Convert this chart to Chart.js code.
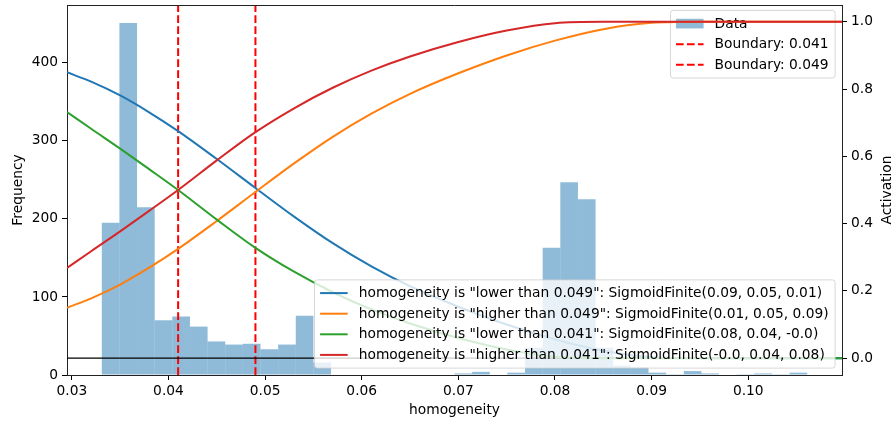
<!DOCTYPE html>
<html>
<head>
<meta charset="utf-8">
<script src="https://cdn.jsdelivr.net/npm/chart.js@4/dist/chart.umd.min.js"></script>
<style>
html, body { margin: 0; padding: 0; background: #fff; }
canvas { display: block; }
</style>
</head>
<body>
<canvas id="chart" width="894" height="421"></canvas>
<script>
// histogram of homogeneity values (40 equal bins)
const binStart = 0.0331;
const binWidth = 0.001825;
const counts = [195, 451, 215, 70, 75, 62, 43, 39, 40, 33,
                39, 76, 16, 0, 0, 0, 0, 0, 0, 0,
                2, 4, 0, 3, 35, 163, 247, 225, 35, 12,
                10, 3, 1, 5, 2, 0, 1, 2, 1, 3];

const boundaries = [0.041, 0.049];
const baselineLevel = 0;

// membership curves
const curveX = [0.0295, 0.032, 0.035, 0.038, 0.041, 0.045, 0.049, 0.053, 0.057, 0.061,
                0.065, 0.070, 0.075, 0.080, 0.085, 0.090, 0.095, 0.100, 0.1097];
const lowerThan049 = [0.850, 0.822, 0.781, 0.731, 0.675, 0.592, 0.506, 0.421, 0.342, 0.273,
                      0.214, 0.153, 0.100, 0.056, 0.022, 0.003, 0.0, 0.0, 0.0];
const higherThan049 = [0.150, 0.178, 0.219, 0.269, 0.325, 0.408, 0.494, 0.579, 0.658, 0.727,
                       0.786, 0.847, 0.900, 0.944, 0.978, 0.997, 1.0, 1.0, 1.0];
const lowerThan041 = [0.732, 0.682, 0.623, 0.562, 0.500, 0.412, 0.328, 0.257, 0.196, 0.145,
                      0.103, 0.060, 0.026, 0.004, 0.0, 0.0, 0.0, 0.0, 0.0];
const higherThan041 = [0.268, 0.318, 0.377, 0.438, 0.500, 0.588, 0.672, 0.743, 0.804, 0.855,
                       0.897, 0.940, 0.974, 0.996, 1.0, 1.0, 1.0, 1.0, 1.0];

const curveLabels = [
    'homogeneity is "lower than 0.049": SigmoidFinite(0.09, 0.05, 0.01)',
    'homogeneity is "higher than 0.049": SigmoidFinite(0.01, 0.05, 0.09)',
    'homogeneity is "lower than 0.041": SigmoidFinite(0.08, 0.04, -0.0)',
    'homogeneity is "higher than 0.041": SigmoidFinite(-0.0, 0.04, 0.08)'
];
const curveColors = ['#1f77b4', '#ff7f0e', '#2ca02c', '#d62728'];

const xTicks = [0.03, 0.04, 0.05, 0.06, 0.07, 0.08, 0.09, 0.10];
const freqTicks = [0, 100, 200, 300, 400];
const actTicks = [0.0, 0.2, 0.4, 0.6, 0.8, 1.0];
const xRange = [0.0295, 0.1097];
const freqRange = [0, 474];
const actRange = [-0.05, 1.05];

const FS = 13.8;
const FONT = FS + 'px "DejaVu Sans"';

Chart.defaults.font.family = '"DejaVu Sans"';
Chart.defaults.font.size = FS;
Chart.defaults.color = '#000';

const histData = counts.map((c, i) => ({ x: binStart + (i + 0.5) * binWidth, y: c }));

const datasets = [];

datasets.push({
    type: 'bar',
    label: 'Data',
    data: histData,
    backgroundColor: 'rgba(31,119,180,0.5)',
    borderWidth: 0,
    barPercentage: 1.0,
    categoryPercentage: 1.0,
    inflateAmount: 0,
    xAxisID: 'x',
    yAxisID: 'y',
    order: 20
});

boundaries.forEach((b) =>
{
    datasets.push({
        type: 'line',
        label: 'Boundary: ' + b,
        data: [{ x: b, y: freqRange[0] }, { x: b, y: freqRange[1] }],
        borderColor: '#ff0000',
        borderWidth: 2,
        borderDash: [7.7, 3.3],
        pointRadius: 0,
        xAxisID: 'x',
        yAxisID: 'y',
        order: 15
    });
});

datasets.push({
    type: 'line',
    label: 'baseline',
    data: [{ x: xRange[0], y: baselineLevel }, { x: xRange[1], y: baselineLevel }],
    borderColor: '#000',
    borderWidth: 1.2,
    pointRadius: 0,
    xAxisID: 'x',
    yAxisID: 'y2',
    order: 10
});

[lowerThan049, higherThan049, lowerThan041, higherThan041].forEach((vals, k) =>
{
    datasets.push({
        type: 'line',
        label: curveLabels[k],
        data: curveX.map((x, i) => ({ x: x, y: vals[i] })),
        borderColor: curveColors[k],
        borderWidth: 2,
        pointRadius: 0,
        cubicInterpolationMode: 'monotone',
        xAxisID: 'x',
        yAxisID: 'y2',
        order: 4 - k
    });
});

function roundRect(ctx, x, y, w, h, r)
{
    ctx.beginPath();
    ctx.moveTo(x + r, y);
    ctx.lineTo(x + w - r, y);
    ctx.arcTo(x + w, y, x + w, y + r, r);
    ctx.lineTo(x + w, y + h - r);
    ctx.arcTo(x + w, y + h, x + w - r, y + h, r);
    ctx.lineTo(x + r, y + h);
    ctx.arcTo(x, y + h, x, y + h - r, r);
    ctx.lineTo(x, y + r);
    ctx.arcTo(x, y, x + r, y, r);
    ctx.closePath();
}

// matplotlib-like legend box
function drawLegend(chart, items, corner)
{
    const ctx = chart.ctx;
    const area = chart.chartArea;
    const pad = 0.4 * FS, handleLen = 2 * FS, handleGap = 0.8 * FS;
    const rowH = 20.6, edge = 13.2, axPad = 0.5 * FS;

    ctx.save();
    ctx.font = FONT;
    let textW = 0;
    items.forEach((it) => { textW = Math.max(textW, ctx.measureText(it.label).width); });

    const w = pad + handleLen + handleGap + textW + pad + 1;
    const h = 2 * edge + (items.length - 1) * rowH;
    const x = area.right - axPad - w;
    const y = corner === 'upper' ? area.top + axPad - 1.5 : area.bottom - axPad - h;

    roundRect(ctx, x, y, w, h, 2.8);
    ctx.fillStyle = 'rgba(255,255,255,0.8)';
    ctx.fill();
    ctx.lineWidth = 1;
    ctx.strokeStyle = 'rgba(204,204,204,0.8)';
    ctx.stroke();

    items.forEach((it, i) =>
    {
        const cy = y + edge + i * rowH;
        const hx = x + pad;
        if (it.kind === 'patch')
        {
            ctx.fillStyle = it.color;
            ctx.fillRect(hx, cy - 0.35 * FS, handleLen, 0.7 * FS);
        }
        else
        {
            ctx.beginPath();
            ctx.setLineDash(it.dash || []);
            ctx.strokeStyle = it.color;
            ctx.lineWidth = 2;
            ctx.moveTo(hx, cy);
            ctx.lineTo(hx + handleLen, cy);
            ctx.stroke();
            ctx.setLineDash([]);
        }
        ctx.fillStyle = '#000';
        ctx.textAlign = 'left';
        ctx.textBaseline = 'middle';
        ctx.fillText(it.label, hx + handleLen + handleGap, cy + 0.5);
    });
    ctx.restore();
}

const decorations = {
    id: 'decorations',
    beforeDatasetsDraw(chart)
    {
        const ds = chart.data.datasets;
        drawLegend(chart, [
            { kind: 'patch', label: ds[0].label, color: ds[0].backgroundColor },
            { kind: 'line', label: ds[1].label, color: ds[1].borderColor, dash: ds[1].borderDash },
            { kind: 'line', label: ds[2].label, color: ds[2].borderColor, dash: ds[2].borderDash }
        ], 'upper');
    },
    afterDatasetsDraw(chart)
    {
        const ds = chart.data.datasets.slice(4);
        drawLegend(chart, ds.map((d) => ({ kind: 'line', label: d.label, color: d.borderColor })), 'lower');
    },
    afterDraw(chart)
    {
        const ctx = chart.ctx;
        const a = chart.chartArea;
        ctx.save();
        // top spine
        ctx.strokeStyle = '#222';
        ctx.lineWidth = 1;
        ctx.beginPath();
        ctx.moveTo(a.left, Math.round(a.top) + 0.5);
        ctx.lineTo(a.right, Math.round(a.top) + 0.5);
        ctx.stroke();

        // axis titles
        ctx.font = FONT;
        ctx.fillStyle = '#000';
        ctx.textAlign = 'center';
        ctx.textBaseline = 'middle';
        const midY = (a.top + a.bottom) / 2;
        ctx.fillText('homogeneity', (a.left + a.right) / 2, 410);

        ctx.translate(18, midY);
        ctx.rotate(-Math.PI / 2);
        ctx.fillText('Frequency', 0, 0);
        ctx.restore();

        ctx.save();
        ctx.font = FONT;
        ctx.fillStyle = '#000';
        ctx.textAlign = 'center';
        ctx.textBaseline = 'middle';
        ctx.translate(887, midY);
        ctx.rotate(-Math.PI / 2);
        ctx.fillText('Activation', 0, 0);
        ctx.restore();
    }
};

function fixedSize(size)
{
    return function(scale)
    {
        if (scale.isHorizontal())
        {
            scale.height = size;
        }
        else
        {
            scale.width = size;
        }
        scale.paddingTop = 0; scale.paddingBottom = 0;
        scale.paddingLeft = 0; scale.paddingRight = 0;
    };
}

const axisGrid = { drawOnChartArea: false, drawTicks: true, tickLength: 5, color: '#000', tickWidth: 1, offset: false };
const axisBorder = { display: true, color: '#222', width: 1 };

new Chart(document.getElementById('chart'), {
    type: 'bar',
    data: { datasets: datasets },
    options:
    {
        responsive: false,
        animation: false,
        devicePixelRatio: 1,
        layout: { padding: { top: 5, left: 0, right: 0, bottom: 0 } },
        plugins: { legend: { display: false }, tooltip: { enabled: false } },
        scales:
        {
            x:
            {
                type: 'linear',
                position: 'bottom',
                min: xRange[0],
                max: xRange[1],
                offset: false,
                grid: axisGrid,
                border: axisBorder,
                afterBuildTicks: (s) => { s.ticks = xTicks.map((v) => ({ value: v })); },
                afterFit: fixedSize(46),
                ticks: { padding: 3, maxRotation: 0, autoSkip: false, callback: (v) => v.toFixed(2) }
            },
            y:
            {
                type: 'linear',
                position: 'left',
                min: freqRange[0],
                max: freqRange[1],
                grid: axisGrid,
                border: axisBorder,
                afterBuildTicks: (s) => { s.ticks = freqTicks.map((v) => ({ value: v })); },
                afterFit: fixedSize(67),
                ticks: { padding: 4, callback: (v) => String(v) }
            },
            y2:
            {
                type: 'linear',
                position: 'right',
                min: actRange[0],
                max: actRange[1],
                grid: axisGrid,
                border: axisBorder,
                afterBuildTicks: (s) => { s.ticks = actTicks.map((v) => ({ value: v })); },
                afterFit: fixedSize(52),
                ticks: { padding: 4, callback: (v) => v.toFixed(1) }
            }
        }
    },
    plugins: [decorations]
});
</script>
</body>
</html>
